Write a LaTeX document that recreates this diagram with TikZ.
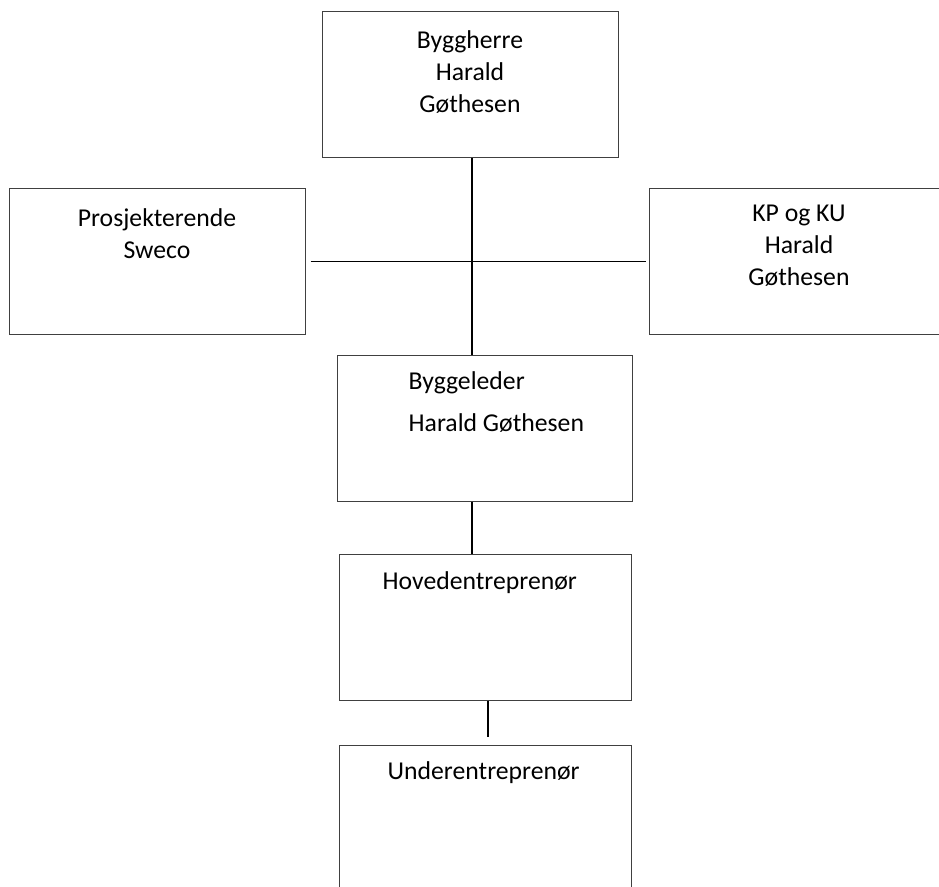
\documentclass[tikz,border=0pt]{standalone}
\usepackage{fontspec}
\setmainfont{Carlito}
\newcommand\orgfont{\fontsize{25.7}{32}\selectfont}

\tikzset{
  boks/.style={draw=black!75, line width=1pt, inner sep=0pt,
    minimum width=#1, minimum height=146pt},
  tekst/.style={font=\orgfont, inner sep=0pt},
  linje/.style={line width=1.6pt, black}
}

\begin{document}
\begin{tikzpicture}[x=1pt, y=-1pt]
    \useasboundingbox (0,0) rectangle (939,886);
    \clip (0,0) rectangle (939,886);

    % boksene
    \node [boks=296pt] (herre) at (470,84.5) {};
    \node [boks=296pt] (pros)  at (157,261.5) {};
    \node [boks=300pt] (kpku)  at (799,261.5) {};
    \node [boks=295pt] (leder) at (484.5,428) {};
    \node [boks=292pt] (hoved) at (485,627) {};
    \node [boks=292pt] (under) at (485,818) {};

    % tekst (base = siste linje)
    \node [tekst, align=center, anchor=base] (herreT) at ([yshift=-101pt]herre.north)
      {Byggherre\\Harald\\Gøthesen};
    \node [tekst, align=center, anchor=base] (prosT) at ([yshift=-70pt]pros.north)
      {Prosjekterende\\Sweco};
    \node [tekst, align=center, anchor=base] (kpkuT) at ([yshift=-97pt]kpku.north)
      {KP og KU\\Harald\\Gøthesen};
    \node [tekst, align=left, anchor=base west] (lederT) at ([xshift=72pt,yshift=-77pt]leder.north west)
      {Byggeleder\\[10pt]Harald Gøthesen};
    \node [tekst, anchor=base west] (hovedT) at ([xshift=44pt,yshift=-36pt]hoved.north west)
      {Hovedentreprenør};
    \node [tekst, anchor=base west] (underT) at ([xshift=49pt,yshift=-35pt]under.north west)
      {Underentreprenør};

    % linjer
    \draw [linje] ([xshift=2pt]herre.south) -- ([xshift=2pt]herre.south |- leder.north);
    \draw [linje] ([xshift=5pt]pros.east) -- ([xshift=-3pt]kpku.west);
    \draw [linje] ([xshift=2pt]herre.south |- leder.south) -- ([xshift=2pt]herre.south |- hoved.north);
    \draw [linje] ([xshift=3pt]hoved.south) -- ([xshift=3pt,yshift=8pt]under.north);
  \end{tikzpicture}
\end{document}
